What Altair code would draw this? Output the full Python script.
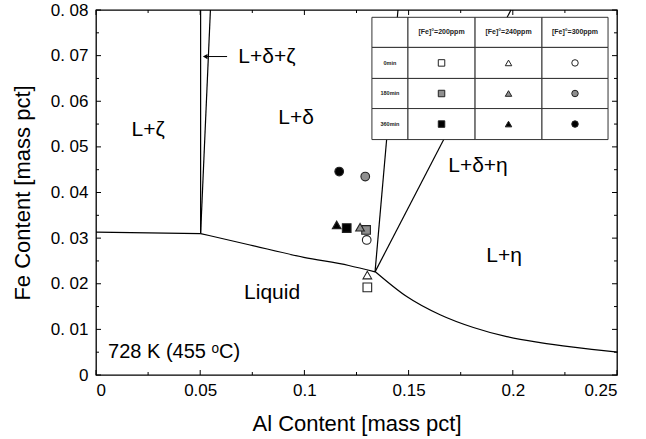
import altair as alt
import pandas as pd

# ---- measured compositions (mass pct) ----
conc_ppm = [200, 240, 300, 200, 240, 300, 200, 240, 300]
hold_min = [0, 0, 0, 180, 180, 180, 360, 360, 360]
al_pct = [0.1302, 0.1302, 0.1299, 0.1296, 0.1267, 0.1292, 0.1203, 0.1155, 0.1167]
fe_pct = [0.0192, 0.0219, 0.0296, 0.0318, 0.0324, 0.0435, 0.0322, 0.0329, 0.0446]

# ---- phase boundaries of the Zn-Al-Fe isotherm ----
b_liq_left_al = [0.0, 0.0502]
b_liq_left_fe = [0.0313, 0.0310]
b_liq_mid_al = [0.0502, 0.0739, 0.0997, 0.1213, 0.1339]
b_liq_mid_fe = [0.0310, 0.0285, 0.0258, 0.0240, 0.0226]
b_liq_right_al = [0.1339, 0.1491, 0.1651, 0.1811, 0.1971, 0.2131, 0.2290, 0.2503]
b_liq_right_fe = [0.0227, 0.0172, 0.0132, 0.0104, 0.0084, 0.0071, 0.0061, 0.0050]
b_zeta_al = [0.0502, 0.0502]
b_zeta_fe = [0.0310, 0.0800]
b_delta_zeta_al = [0.0502, 0.0549]
b_delta_zeta_fe = [0.0310, 0.0800]
b_delta_eta_al = [0.1339, 0.1449]
b_delta_eta_fe = [0.0226, 0.0800]
b_eta_al = [0.1339, 0.1991]
b_eta_fe = [0.0226, 0.0800]

# ---- region labels ----
region_text = ["L+ζ", "L+δ", "L+δ+η", "L+η", "Liquid"]
region_al = [0.025, 0.096, 0.1833, 0.1958, 0.0845]
region_fe = [0.0538, 0.0564, 0.0457, 0.0260, 0.0180]

# ---- axis ticks ----
x_major = [0, 0.05, 0.1, 0.15, 0.2, 0.25]
x_minor = [0.025, 0.075, 0.125, 0.175, 0.225]
y_major = [0, 0.01, 0.02, 0.03, 0.04, 0.05, 0.06, 0.07, 0.08]
y_minor = [0.005, 0.015, 0.025, 0.035, 0.045, 0.055, 0.065, 0.075]

# ---- key table ----
table_cols = ["[Fe]°=200ppm", "[Fe]°=240ppm", "[Fe]°=300ppm"]
table_rows = ["0min", "180min", "360min"]

W, H = 521, 365
FONT = "Liberation Sans"
xs = alt.Scale(domain=[0, 0.25], nice=False, zero=False)
ys = alt.Scale(domain=[0, 0.08], nice=False, zero=False)

shape_scale = alt.Scale(domain=[200, 240, 300], range=["square", "triangle-up", "circle"])
fill_scale = alt.Scale(domain=[0, 180, 360], range=["white", "#8f8f8f", "black"])


def seg_frame(segs):
    rows = []
    for name, a, f in segs:
        for i, (ai, fi) in enumerate(zip(a, f)):
            rows.append({"seg": name, "i": i, "al": ai, "fe": fi})
    return pd.DataFrame(rows)


straight = seg_frame([
    ("a", b_liq_left_al, b_liq_left_fe),
    ("d", b_zeta_al, b_zeta_fe),
    ("e", b_delta_zeta_al, b_delta_zeta_fe),
    ("f", b_delta_eta_al, b_delta_eta_fe),
    ("g", b_eta_al, b_eta_fe),
])
curved = seg_frame([
    ("b", b_liq_mid_al, b_liq_mid_fe),
    ("c", b_liq_right_al, b_liq_right_fe),
])

lines = alt.Chart(straight).mark_line(color="black", strokeWidth=1.2).encode(
    x=alt.X("al:Q", scale=xs,
            axis=alt.Axis(values=x_major, labelExpr="format(datum.value, '.2~f')",
                          title="Al Content [mass pct]", domain=False, ticks=False, grid=False,
                          labelFont=FONT, labelFontSize=17, labelColor="black", labelPadding=7,
                          titleFont=FONT, titleFontSize=22, titleFontWeight="normal",
                          titleColor="black", titlePadding=15)),
    y=alt.Y("fe:Q", scale=ys,
            axis=alt.Axis(values=y_major,
                          labelExpr="datum.value == 0 ? '0' : '0. ' + substring(format(datum.value, '.2f'), 2)",
                          title="Fe Content [mass pct]", domain=False, ticks=False, grid=False,
                          labelFont=FONT, labelFontSize=17, labelColor="black", labelPadding=8,
                          titleFont=FONT, titleFontSize=22, titleFontWeight="normal",
                          titleColor="black", titlePadding=16)),
    detail="seg:N",
    order="i:Q",
)
curves = alt.Chart(curved).mark_line(color="black", strokeWidth=1.2, interpolate="monotone").encode(
    x=alt.X("al:Q", scale=xs), y=alt.Y("fe:Q", scale=ys), detail="seg:N", order="i:Q")


# inward tick marks on all four sides
def xticks(vals, length):
    d = pd.DataFrame({"v": vals})
    base = alt.Chart(d).mark_rule(color="black", strokeWidth=1)
    bottom = base.encode(x=alt.X("v:Q", scale=xs), y=alt.value(H), y2=alt.value(H - length))
    top = base.encode(x=alt.X("v:Q", scale=xs), y=alt.value(0), y2=alt.value(length))
    return bottom + top


def yticks(vals, length):
    d = pd.DataFrame({"v": vals})
    base = alt.Chart(d).mark_rule(color="black", strokeWidth=1)
    left = base.encode(y=alt.Y("v:Q", scale=ys), x=alt.value(0), x2=alt.value(length))
    right = base.encode(y=alt.Y("v:Q", scale=ys), x=alt.value(W), x2=alt.value(W - length))
    return left + right


ticks = xticks(x_major, 5) + xticks(x_minor, 3) + yticks(y_major, 5) + yticks(y_minor, 3)

# measured points
pts = pd.DataFrame({"conc": conc_ppm, "t": hold_min, "al": al_pct, "fe": fe_pct})
points = alt.Chart(pts).mark_point(filled=False, size=75, strokeWidth=1.1, stroke="#222",
                                   opacity=1).encode(
    x=alt.X("al:Q", scale=xs),
    y=alt.Y("fe:Q", scale=ys),
    shape=alt.Shape("conc:N", scale=shape_scale, legend=None),
    fill=alt.Fill("t:N", scale=fill_scale, legend=None),
    fillOpacity=alt.value(1),
)

# region labels
regions = pd.DataFrame({"txt": region_text, "al": region_al, "fe": region_fe})
labels = alt.Chart(regions).mark_text(font=FONT, fontSize=21, color="black").encode(
    x=alt.X("al:Q", scale=xs), y=alt.Y("fe:Q", scale=ys), text="txt:N")

dz = pd.DataFrame({"txt": ["L+δ+ζ"], "al": [0.0683], "fe": [0.0698]})
dz_label = alt.Chart(dz).mark_text(font=FONT, fontSize=21, color="black", align="left").encode(
    x=alt.X("al:Q", scale=xs), y=alt.Y("fe:Q", scale=ys), text="txt:N")

arrow_df = pd.DataFrame({"x1": [0.0629], "x2": [0.0524], "fe": [0.0698]})
arrow_line = alt.Chart(arrow_df).mark_rule(color="black", strokeWidth=1).encode(
    x=alt.X("x1:Q", scale=xs), x2="x2:Q", y=alt.Y("fe:Q", scale=ys))
arrow_head = alt.Chart(arrow_df).mark_point(shape="triangle-left", filled=True, size=28,
                                            color="black", opacity=1).encode(
    x=alt.X("x2:Q", scale=xs), y=alt.Y("fe:Q", scale=ys))

temp_df = pd.DataFrame({"txt": ["728 K (455 ᵒC)"], "al": [0.0058], "fe": [0.0050]})
temp_label = alt.Chart(temp_df).mark_text(font=FONT, fontSize=20, color="black", align="left").encode(
    x=alt.X("al:Q", scale=xs), y=alt.Y("fe:Q", scale=ys), text="txt:N")

# key table: cell grid, headers, row labels and symbols
col_edges = [0.1324, 0.1497, 0.1819, 0.2140, 0.2457]
row_edges = [0.0784, 0.0718, 0.0650, 0.0584, 0.0516]
cells = []
for r in range(4):
    for c in range(4):
        cells.append({"x1": col_edges[c], "x2": col_edges[c + 1],
                      "y1": row_edges[r], "y2": row_edges[r + 1]})
cells = pd.DataFrame(cells)
table_cells = alt.Chart(cells).mark_rect(fill="white", stroke="#333", strokeWidth=1).encode(
    x=alt.X("x1:Q", scale=xs), x2="x2:Q", y=alt.Y("y1:Q", scale=ys), y2="y2:Q")

col_mid = [(col_edges[i] + col_edges[i + 1]) / 2 for i in range(4)]
row_mid = [(row_edges[i] + row_edges[i + 1]) / 2 for i in range(4)]
head = pd.DataFrame({"txt": table_cols, "x": col_mid[1:], "y": [row_mid[0]] * 3})
head_text = alt.Chart(head).mark_text(font=FONT, fontSize=7, fontWeight="bold", color="#222").encode(
    x=alt.X("x:Q", scale=xs), y=alt.Y("y:Q", scale=ys), text="txt:N")
rlab = pd.DataFrame({"txt": table_rows, "x": [col_mid[0]] * 3, "y": row_mid[1:]})
row_text = alt.Chart(rlab).mark_text(font=FONT, fontSize=5.5, fontWeight="bold", color="#222").encode(
    x=alt.X("x:Q", scale=xs), y=alt.Y("y:Q", scale=ys), text="txt:N")

key_rows = []
for ri, t in enumerate([0, 180, 360]):
    for ci, cp in enumerate([200, 240, 300]):
        key_rows.append({"conc": cp, "t": t, "x": col_mid[ci + 1], "y": row_mid[ri + 1]})
key = pd.DataFrame(key_rows)
key_pts = alt.Chart(key).mark_point(filled=False, size=42, strokeWidth=1, stroke="#222",
                                    opacity=1).encode(
    x=alt.X("x:Q", scale=xs), y=alt.Y("y:Q", scale=ys),
    shape=alt.Shape("conc:N", scale=shape_scale, legend=None),
    fill=alt.Fill("t:N", scale=fill_scale, legend=None),
    fillOpacity=alt.value(1),
)

chart = alt.layer(
    lines, curves, ticks, arrow_line, arrow_head, labels, dz_label, temp_label, points,
    table_cells, head_text, row_text, key_pts,
).properties(
    width=W, height=H,
    padding={"left": 96, "top": 10, "right": 29, "bottom": 64},
    autosize=alt.AutoSizeParams(type="none"),
    background="white",
).configure_view(stroke="black", strokeWidth=1.3)

chart.save("out.html", embed_options={"renderer": "svg", "actions": False})
